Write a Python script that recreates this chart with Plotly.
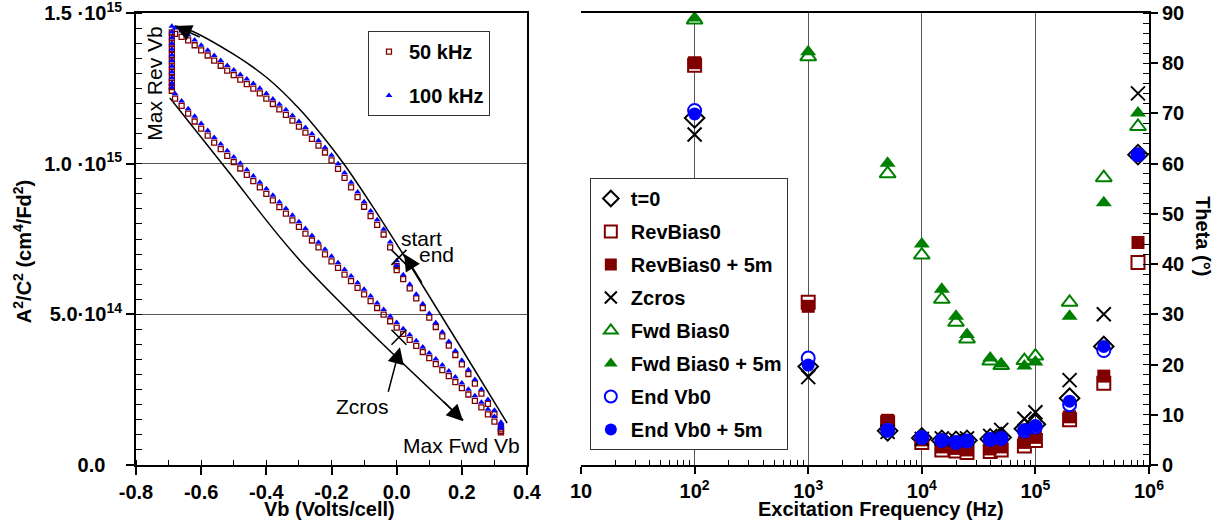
import plotly.graph_objects as go

FONT = "Liberation Sans, Arial, sans-serif"
DRED = "#800000"
GREEN = "#008000"
BLUE = "#0000FF"

# ---------------- Left panel: A^2/C^2 vs Vb (values in units of 1e15 cm^4/Fd^2) -------------
vb_sweep = [0.00, -0.02, -0.04, -0.06, -0.08, -0.10, -0.12, -0.14, -0.16, -0.18, -0.20, -0.22,
            -0.24, -0.26, -0.28, -0.30, -0.32, -0.34, -0.36, -0.38, -0.40, -0.42, -0.44, -0.46,
            -0.48, -0.50, -0.52, -0.54, -0.56, -0.58, -0.60, -0.62, -0.64, -0.66, -0.68,
            -0.69, -0.69, -0.69, -0.69, -0.69, -0.69, -0.69, -0.69, -0.69, -0.69, -0.69, -0.69,
            -0.68, -0.66, -0.64, -0.62, -0.60, -0.58, -0.56, -0.54, -0.52, -0.50, -0.48, -0.46,
            -0.44, -0.42, -0.40, -0.38, -0.36, -0.34, -0.32, -0.30, -0.28, -0.26, -0.24, -0.22,
            -0.20, -0.18, -0.16, -0.14, -0.12, -0.10, -0.08, -0.06, -0.04, -0.02, 0.00, 0.02,
            0.04, 0.06, 0.08, 0.10, 0.12, 0.14, 0.16, 0.18, 0.20, 0.22, 0.24, 0.26, 0.28, 0.30, 0.32,
            0.32, 0.32,
            0.32, 0.30, 0.28, 0.26, 0.24, 0.22, 0.20, 0.18, 0.16, 0.14, 0.12, 0.10, 0.08, 0.06,
            0.04, 0.02, 0.00]

c2_50khz = [0.660, 0.722, 0.765, 0.797, 0.826, 0.857, 0.889, 0.921, 0.953, 0.983, 1.011, 1.037,
            1.060, 1.082, 1.103, 1.123, 1.143, 1.162, 1.180, 1.198, 1.216, 1.233, 1.249, 1.264,
            1.279, 1.294, 1.309, 1.325, 1.342, 1.359, 1.376, 1.393, 1.409, 1.421, 1.431,
            1.436, 1.418, 1.399, 1.380, 1.361, 1.342, 1.323, 1.304, 1.285, 1.268, 1.254, 1.242,
            1.216, 1.192, 1.166, 1.140, 1.116, 1.093, 1.070, 1.048, 1.026, 1.005, 0.984, 0.963,
            0.942, 0.921, 0.900, 0.878, 0.856, 0.834, 0.812, 0.790, 0.768, 0.745, 0.722, 0.699,
            0.676, 0.654, 0.632, 0.610, 0.588, 0.566, 0.544, 0.521, 0.499, 0.477, 0.456, 0.435,
            0.415, 0.395, 0.375, 0.355, 0.335, 0.315, 0.295, 0.275, 0.255, 0.234, 0.213, 0.191,
            0.168, 0.144, 0.118,
            0.112, 0.108,
            0.128, 0.168, 0.203, 0.237, 0.270, 0.302, 0.334, 0.365, 0.396, 0.427, 0.458, 0.489,
            0.521, 0.553, 0.586, 0.617, 0.647]

c2_100khz = [0.678, 0.740, 0.782, 0.814, 0.843, 0.874, 0.906, 0.938, 0.970, 1.000, 1.028, 1.054,
             1.077, 1.099, 1.120, 1.140, 1.160, 1.179, 1.197, 1.215, 1.233, 1.250, 1.266, 1.281,
             1.296, 1.311, 1.326, 1.342, 1.359, 1.376, 1.393, 1.410, 1.427, 1.440, 1.450,
             1.456, 1.437, 1.418, 1.399, 1.380, 1.361, 1.342, 1.323, 1.304, 1.285, 1.268, 1.254,
             1.232, 1.208, 1.182, 1.157, 1.133, 1.110, 1.087, 1.065, 1.043, 1.022, 1.001, 0.980,
             0.959, 0.938, 0.917, 0.895, 0.873, 0.851, 0.829, 0.807, 0.785, 0.762, 0.739, 0.716,
             0.693, 0.671, 0.649, 0.627, 0.605, 0.583, 0.561, 0.538, 0.516, 0.494, 0.473, 0.452,
             0.432, 0.412, 0.392, 0.372, 0.352, 0.332, 0.312, 0.292, 0.272, 0.251, 0.230, 0.208,
             0.185, 0.161, 0.135,
             0.128, 0.122,
             0.142, 0.182, 0.217, 0.251, 0.284, 0.316, 0.348, 0.379, 0.410, 0.441, 0.472, 0.503,
             0.535, 0.567, 0.600, 0.631, 0.662]

# guide curves (hand-drawn in the original)
arc_upper_v = [0.339, 0.200, 0.100, 0.040, 0.000, -0.080, -0.158, -0.230, -0.297, -0.398,
               -0.502, -0.643, -0.680]
arc_upper_c = [0.139, 0.385, 0.560, 0.665, 0.733, 0.868, 0.993, 1.095, 1.180, 1.285,
               1.364, 1.447, 1.457]
arc_lower_v = [-0.696, -0.521, -0.297, 0.204]
arc_lower_c = [1.218, 0.980, 0.679, 0.149]
cross_v = [0.007, 0.007]
cross_c = [0.689, 0.424]

# ---------------- Right panel: Theta vs excitation frequency ------------------------------
freq = [100, 1000, 5000, 10000, 15000, 20000, 25000, 40000, 50000, 80000, 100000, 200000,
        400000, 800000]
t0 = [69.1, 19.6, 6.8, 5.4, 4.9, 4.7, 4.9, 5.2, 5.5, 7.2, 8.1, 13.3, 23.6, 61.8]
revbias0 = [79.6, 32.4, 8.4, 4.5, 3.0, 2.8, 2.5, 2.7, 3.0, 3.8, 4.9, 9.0, 16.3, 40.3]
revbias0_5m = [80.1, 31.6, 8.9, 5.0, 3.6, 3.3, 3.0, 3.2, 3.6, 4.5, 5.5, 9.6, 17.7, 44.3]
zcros = [65.8, 17.5, 6.6, 5.2, 5.3, 5.0, 5.3, 5.8, 7.0, 9.2, 10.5, 16.9, 30.0, 74.0]
fwdbias0 = [88.6, 81.3, 58.0, 41.8, 33.0, 28.4, 25.1, 20.7, 19.8, 20.8, 21.7, 32.4, 57.2, 67.4]
fwdbias0_5m = [89.0, 82.3, 60.1, 44.0, 35.0, 29.6, 26.0, 21.3, 20.1, 19.7, 20.5, 29.6, 52.2, 70.1]
endvb0 = [70.6, 21.3, 6.9, 5.5, 4.9, 4.5, 4.8, 5.1, 5.3, 6.8, 7.6, 12.0, 22.8, 61.8]
endvb0_5m = [69.9, 19.9, 6.8, 5.4, 4.8, 4.6, 4.8, 5.2, 5.4, 7.0, 7.8, 12.7, 23.6, 61.8]

# axis ticks
left_x_ticks = [-0.8, -0.6, -0.4, -0.2, 0.0, 0.2, 0.4]
left_x_text = ["-0.8", "-0.6", "-0.4", "-0.2", "0.0", "0.2", "0.4"]
left_y_ticks = [0.0, 0.5, 1.0, 1.5]
left_y_text = ["0.0\u00a0\u00a0\u00a0", "5.0·10<sup>14</sup>", "1.0 ·10<sup>15</sup>",
               "1.5 ·10<sup>15</sup>"]
freq_ticks = [10, 100, 1000, 10000, 100000, 1000000]
freq_text = ["10", "10<sup>2</sup>", "10<sup>3</sup>", "10<sup>4</sup>", "10<sup>5</sup>",
             "10<sup>6</sup>"]
freq_minor = [m * d for d in [10, 100, 1000, 10000, 100000] for m in range(2, 10)]

fig = go.Figure()

# left panel traces
fig.add_trace(go.Scatter(x=arc_upper_v, y=arc_upper_c, mode="lines",
                         line=dict(color="black", width=1.5, shape="spline", smoothing=1.0),
                         showlegend=False, hoverinfo="skip", xaxis="x", yaxis="y"))
fig.add_trace(go.Scatter(x=arc_lower_v, y=arc_lower_c, mode="lines",
                         line=dict(color="black", width=1.5, shape="spline"),
                         showlegend=False, hoverinfo="skip", xaxis="x", yaxis="y"))
fig.add_trace(go.Scatter(x=vb_sweep, y=c2_50khz, mode="markers", name="50 kHz",
                         marker=dict(symbol="square-open", size=5, color=DRED, line=dict(width=1.3, color=DRED)),
                         legend="legend", legendgroup="a", xaxis="x", yaxis="y"))
fig.add_trace(go.Scatter(x=vb_sweep, y=c2_100khz, mode="markers", name="100 kHz",
                         marker=dict(symbol="triangle-up", size=6, color=BLUE, line=dict(width=0)),
                         legend="legend", legendgroup="b", xaxis="x", yaxis="y"))
fig.add_trace(go.Scatter(x=cross_v, y=cross_c, mode="markers",
                         marker=dict(symbol="x-thin", size=15, line=dict(width=1.6, color="black")),
                         showlegend=False, hoverinfo="skip", xaxis="x", yaxis="y"))

# right panel traces
def add_series(name, vals, symbol, size, fill, edge, lw):
    fig.add_trace(go.Scatter(x=freq, y=vals, mode="markers", name=name,
                             marker=dict(symbol=symbol, size=size, color=fill,
                                         line=dict(width=lw, color=edge)),
                             legend="legend2", legendgroup=name, xaxis="x2", yaxis="y2"))

add_series("t=0", t0, "diamond-open", 15, "black", "black", 2)
add_series("RevBias0", revbias0, "square", 13, "white", DRED, 2)
add_series("RevBias0 + 5m", revbias0_5m, "square", 13, DRED, DRED, 0)
add_series("Zcros", zcros, "x-thin", 14, "black", "black", 2)
add_series("Fwd Bias0", fwdbias0, "triangle-up", 14, "white", GREEN, 2)
add_series("Fwd Bias0 + 5m", fwdbias0_5m, "triangle-up", 14, GREEN, GREEN, 0)
add_series("End Vb0", endvb0, "circle", 13, "white", BLUE, 2)
add_series("End Vb0 + 5m", endvb0_5m, "circle", 13, BLUE, BLUE, 0)

tickfont = dict(family=FONT, size=20, color="black", weight="bold")

fig.update_layout(
    width=1225, height=522,
    margin=dict(l=136, r=76, t=13, b=57, autoexpand=False),
    paper_bgcolor="white", plot_bgcolor="white",
    font=dict(family=FONT, size=20, color="black"),
    xaxis=dict(domain=[0, 0.386], range=[-0.8, 0.4], anchor="y", automargin=False,
               tickmode="array", tickvals=left_x_ticks, ticktext=left_x_text,
               ticks="outside", ticklen=8, tickwidth=1.5, tickcolor="black",
               ticklabeloverflow="allow",
               minor=dict(ticks="inside", dtick=0.1, ticklen=5, tickwidth=1, tickcolor="black"),
               showline=True, linewidth=2, linecolor="black", mirror=True,
               showgrid=False, zeroline=False, tickfont=tickfont),
    yaxis=dict(domain=[0, 1], range=[0, 1.5], anchor="x", automargin=False,
               tickmode="array", tickvals=left_y_ticks, ticktext=left_y_text,
               ticks="outside", ticklen=8, tickwidth=1.5, tickcolor="black",
               ticklabeloverflow="allow",
               minor=dict(ticks="inside", dtick=0.05, ticklen=6, tickwidth=1, tickcolor="black"),
               showline=True, linewidth=2, linecolor="black", mirror=True,
               showgrid=True, gridcolor="#555555", gridwidth=1, zeroline=False, tickfont=tickfont),
    xaxis2=dict(domain=[0.4393, 1], type="log", range=[1, 6], anchor="y2", automargin=False,
                tickmode="array", tickvals=freq_ticks, ticktext=freq_text,
                ticks="outside", ticklen=7, tickwidth=1.5, tickcolor="black",
                ticklabeloverflow="allow",
                minor=dict(ticks="inside", tickmode="array", tickvals=freq_minor, ticklen=5,
                           tickwidth=1, tickcolor="black"),
                showline=True, linewidth=2, linecolor="black", mirror=True,
                showgrid=True, gridcolor="#555555", gridwidth=1, zeroline=False, tickfont=tickfont),
    yaxis2=dict(range=[0, 90], anchor="x2", side="right", dtick=10, automargin=False,
                ticks="outside", ticklen=7, tickwidth=1.5, tickcolor="black",
                ticklabeloverflow="allow",
                minor=dict(ticks="inside", dtick=2, ticklen=6, tickwidth=1, tickcolor="black"),
                showline=True, linewidth=2, linecolor="black",
                showgrid=False, zeroline=False, tickfont=tickfont),
    yaxis3=dict(range=[0, 90], anchor="x2", overlaying="y2", side="left", dtick=10, automargin=False,
                ticks="outside", ticklen=7, tickwidth=1.5, tickcolor="black", showticklabels=False,
                minor=dict(ticks="inside", dtick=2, ticklen=6, tickwidth=1, tickcolor="black"),
                showline=True, linewidth=2, linecolor="black",
                showgrid=False, zeroline=False),
    legend=dict(x=0.229, y=0.960, xanchor="left", yanchor="top", bgcolor="white",
                bordercolor="#333333", borderwidth=1, itemsizing="trace", tracegroupgap=15,
                font=dict(family=FONT, size=20, color="black", weight="bold")),
    legend2=dict(x=0.448, y=0.635, xanchor="left", yanchor="top", bgcolor="white",
                 bordercolor="#333333", borderwidth=1, itemsizing="constant", tracegroupgap=4,
                 font=dict(family=FONT, size=20, color="black", weight="bold")),
    showlegend=True,
)

# text labels in left panel
label_font = dict(family=FONT, size=21, color="black")
texts = [
    ("Max Rev Vb", -0.742, 1.265, -90),
    ("start", 0.075, 0.753, 0),
    ("end", 0.121, 0.699, 0),
    ("Zcros", -0.106, 0.195, 0),
    ("Max Fwd Vb", 0.198, 0.066, 0),
]
for t, x, y, ang in texts:
    fig.add_annotation(text=t, x=x, y=y, xref="x", yref="y", showarrow=False,
                       textangle=ang, font=label_font, xanchor="center", yanchor="middle")

# arrowheads (tip, tail)
arrows = [
    (-0.680, 1.457, -0.600, 1.418),
    (0.204, 0.145, 0.140, 0.215),
    (0.023, 0.700, 0.080, 0.600),
    (0.010, 0.391, -0.027, 0.238),
]
for x, y, ax, ay in arrows:
    fig.add_annotation(text="", x=x, y=y, ax=ax, ay=ay, xref="x", yref="y", axref="x", ayref="y",
                       showarrow=True, arrowhead=2, arrowsize=2.2, arrowwidth=1.5,
                       arrowcolor="black", standoff=0, startstandoff=0)

# axis titles
title_font = dict(family=FONT, size=20, color="black", weight="bold")
fig.add_annotation(text="Vb (Volts/cell)", x=0.1915, y=-0.097, xref="paper", yref="paper",
                   showarrow=False, font=title_font, xanchor="center", yanchor="middle")
fig.add_annotation(text="Excitation Frequency (Hz)", x=0.7354, y=-0.097, xref="paper", yref="paper",
                   showarrow=False, font=title_font, xanchor="center", yanchor="middle")
fig.add_annotation(text="A<sup>2</sup>/C<sup>2</sup> (cm<sup>4</sup>/Fd<sup>2</sup>)", x=-0.1125, y=0.471,
                   xref="paper", yref="paper", showarrow=False, textangle=-90, font=title_font,
                   xanchor="center", yanchor="middle")
fig.add_annotation(text="Theta (°)", x=1.053, y=0.507, xref="paper", yref="paper",
                   showarrow=False, textangle=90, font=title_font, xanchor="center", yanchor="middle")

# remove the browser's default page margin so the 1225x522 figure fills the window exactly
fig.write_html("out.html", config={"displayModeBar": False},
               post_script="document.body.style.margin='0';document.body.style.overflow='hidden';")
